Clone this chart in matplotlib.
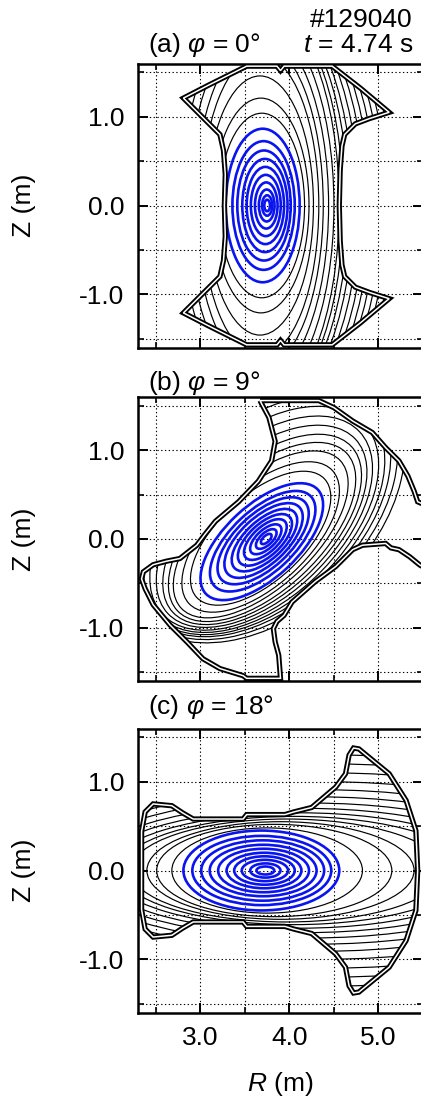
import numpy as np
import matplotlib
matplotlib.use("Agg")
import matplotlib.pyplot as plt
from matplotlib.patches import Ellipse, Polygon
from matplotlib.ticker import FixedLocator, FixedFormatter

plt.rcParams['font.family'] = ['Liberation Sans', 'DejaVu Sans']
plt.rcParams['mathtext.fontset'] = 'custom'
plt.rcParams['mathtext.rm'] = 'Liberation Sans'
plt.rcParams['mathtext.it'] = 'Liberation Sans:italic'

# ---------------- data ----------------
# panel (a) phi = 0 deg : upper half of boundary (mirrored in Z)
A_bnd_R = [3.27, 3.28, 3.26, 3.22, 2.81, 3.10, 3.52, 3.86, 3.90, 3.94, 4.48, 4.80, 5.12, 4.90, 4.74, 4.62, 4.59, 4.57, 4.56]
A_bnd_Z = [0.00, 0.35, 0.62, 0.80, 1.21, 1.36, 1.57, 1.57, 1.52, 1.57, 1.57, 1.32, 1.05, 0.98, 0.92, 0.80, 0.67, 0.40, 0.00]
A_blue_a = [0.032, 0.057, 0.088, 0.127, 0.168, 0.21, 0.254, 0.30, 0.35, 0.415]
A_blue_b = [0.065, 0.115, 0.18, 0.26, 0.345, 0.435, 0.525, 0.62, 0.725, 0.865]
A_blue_R = [3.75, 3.75, 3.745, 3.74, 3.735, 3.73, 3.725, 3.715, 3.71, 3.70]
A_blk_a = [0.48, 0.54, 0.60, 0.66, 0.72, 0.79, 0.86, 0.93, 0.98, 1.04, 1.10, 1.17, 1.24, 1.31, 1.38, 1.45, 1.52, 1.60, 1.68, 1.77]
A_blk_b = [1.04, 1.21, 1.46, 1.70, 1.85, 2.00, 2.15, 2.30, 2.35, 2.40, 2.45, 2.50, 2.55, 2.60, 2.65, 2.70, 2.75, 2.80, 2.85, 2.90]
A_blk_R = [3.69, 3.68, 3.67, 3.67, 3.66, 3.65, 3.64, 3.63, 3.625, 3.62, 3.615, 3.61, 3.605, 3.60, 3.595, 3.59, 3.585, 3.58, 3.575, 3.57]

# panel (b) phi = 9 deg : full boundary
B_bnd_R = [3.67, 3.69, 3.77, 3.84, 3.80, 3.65, 3.43, 3.17, 3.05, 2.96, 2.77, 2.62, 2.47, 2.36, 2.34, 2.38,
           2.47, 2.66, 2.85, 3.03, 3.22, 3.48, 3.52, 3.90, 3.88, 3.84, 3.82, 3.86, 3.94, 4.03, 4.29, 4.52,
           4.71, 4.82, 5.08, 5.14, 5.23, 5.35, 5.46, 5.60, 5.60, 5.44, 5.40, 5.33, 5.23, 5.08, 4.93, 4.71,
           4.50, 4.33]
B_bnd_Z = [1.56, 1.52, 1.37, 1.10, 0.88, 0.65, 0.42, 0.20, 0.05, -0.07, -0.22, -0.25, -0.29, -0.37, -0.45, -0.56,
           -0.74, -0.97, -1.16, -1.35, -1.46, -1.54, -1.57, -1.57, -1.31, -1.16, -1.01, -0.93, -0.86, -0.71, -0.48, -0.31,
           -0.12, -0.07, -0.05, -0.10, -0.12, -0.20, -0.29, -0.38, 0.35, 0.42, 0.54, 0.71, 0.88, 1.03, 1.20, 1.33,
           1.48, 1.56]
B_tilt = 43.0
B_blue_A = [0.075, 0.145, 0.22, 0.30, 0.38, 0.46, 0.55, 0.64, 0.74, 0.86]
B_blue_B = [0.036, 0.069, 0.105, 0.143, 0.181, 0.219, 0.262, 0.305, 0.352, 0.41]
B_blue_R = [3.74, 3.74, 3.735, 3.73, 3.725, 3.72, 3.71, 3.705, 3.70, 3.69]
B_blue_Z = [0.0, 0.0, -0.003, -0.006, -0.01, -0.013, -0.017, -0.02, -0.025, -0.03]
B_blk_A = [0.98, 1.10, 1.22, 1.30, 1.37, 1.44, 1.51, 1.58, 1.65, 1.72, 1.80, 1.88]
B_blk_B = [0.48, 0.54, 0.60, 0.66, 0.72, 0.79, 0.86, 0.93, 1.00, 1.08, 1.17, 1.27]
B_blk_R = [3.677, 3.677, 3.678, 3.693, 3.694, 3.688, 3.683, 3.684, 3.685, 3.680, 3.675, 3.669]
B_blk_Z = [0.009, 0.023, 0.052, 0.079, 0.108, 0.143, 0.179, 0.221, 0.264, 0.313, 0.363, 0.413]

# panel (c) phi = 18 deg : upper half of boundary (mirrored in Z)
C_bnd_R = [2.34, 2.34, 2.38, 2.47, 2.68, 2.80, 2.92, 3.48, 3.52, 3.95, 4.05, 4.25, 4.52, 4.63, 4.67, 4.72, 4.78, 5.12, 5.31, 5.42, 5.44]
C_bnd_Z = [0.00, 0.44, 0.66, 0.75, 0.73, 0.65, 0.58, 0.58, 0.63, 0.63, 0.66, 0.71, 0.94, 1.09, 1.30, 1.38, 1.37, 1.09, 0.79, 0.45, 0.00]
C_blue_a = [0.10, 0.17, 0.26, 0.34, 0.42, 0.51, 0.60, 0.69, 0.78, 0.875]
C_blue_b = [0.045, 0.08, 0.12, 0.16, 0.20, 0.245, 0.29, 0.34, 0.39, 0.45]
C_blue_R = [3.73, 3.73, 3.725, 3.72, 3.715, 3.71, 3.705, 3.70, 3.69, 3.685]
C_blk_a = [1.07, 1.32, 1.50, 1.75, 1.95, 2.15, 2.35, 2.55, 2.75, 2.95, 3.15, 3.35, 3.55, 3.75, 3.95]
C_blk_b = [0.48, 0.52, 0.55, 0.58, 0.61, 0.65, 0.70, 0.76, 0.83, 0.91, 1.00, 1.10, 1.20, 1.30, 1.40]
C_blk_R = [3.75, 3.83, 3.90, 3.97, 4.05, 4.12, 4.18, 4.24, 4.30, 4.35, 4.40, 4.45, 4.50, 4.55, 4.60]

panel_titles = [r"(a) $\varphi$ = 0°", r"(b) $\varphi$ = 9°", r"(c) $\varphi$ = 18°"]
shot_label = "#129040"
time_label = r"$t$ = 4.74 s"
x_ticks = [3.0, 4.0, 5.0]
x_ticklabels = ["3.0", "4.0", "5.0"]
y_ticks = [-1.0, 0.0, 1.0]
y_ticklabels = ["-1.0", "0.0", "1.0"]
x_minor = [2.5, 3.5, 4.5, 5.5]
y_minor = [-1.5, -0.5, 0.5, 1.5]

# ---------------- figure ----------------
W, H = 421, 1102
fig = plt.figure(figsize=(W / 100, H / 100), dpi=100)

def fx(px):
    return px / W

def fy(py):
    return 1 - py / H

left_px, width_px, height_px = 138, 285, 284
tops = [63.5, 397, 728.5]

def mirror(R, Z):
    return list(R) + list(R[-2:0:-1]), list(Z) + [-z for z in Z[-2:0:-1]]

def setup(ax, bottom):
    ax.set_xlim(2.3, 5.5)
    ax.set_ylim(-1.6, 1.6)
    ax.xaxis.set_major_locator(FixedLocator(x_ticks))
    ax.xaxis.set_minor_locator(FixedLocator(x_minor))
    ax.yaxis.set_major_locator(FixedLocator(y_ticks))
    ax.yaxis.set_minor_locator(FixedLocator(y_minor))
    ax.yaxis.set_major_formatter(FixedFormatter(y_ticklabels))
    if bottom:
        ax.xaxis.set_major_formatter(FixedFormatter(x_ticklabels))
    else:
        ax.tick_params(axis='x', labelbottom=False)
    ax.tick_params(which='both', direction='in', top=True, right=True, labelsize=19, pad=10)
    ax.tick_params(which='major', length=7, width=1.4)
    ax.tick_params(which='minor', length=4, width=1.2)
    ax.grid(True, which='both', color='black', lw=0.8, ls=(0, (1.2, 2.2)))
    ax.set_axisbelow(True)
    for s in ax.spines.values():
        s.set_linewidth(1.8)

def draw(ax, bR, bZ, fam_blk, fam_blue, ang):
    verts = np.column_stack([bR, bZ])
    clip = Polygon(verts, closed=True, transform=ax.transData)
    for (cx, cz, a, b) in fam_blk:
        e = Ellipse((cx, cz), 2 * a, 2 * b, angle=ang, fill=False, ec='black', lw=0.85, zorder=2)
        ax.add_patch(e)
        e.set_clip_path(clip)
    for (cx, cz, a, b) in fam_blue:
        e = Ellipse((cx, cz), 2 * a, 2 * b, angle=ang, fill=False, ec='#0a14f0', lw=1.9, zorder=3)
        ax.add_patch(e)
        e.set_clip_path(clip)
    ax.add_patch(Polygon(verts, closed=True, fill=False, ec='black', lw=3.8, zorder=4, joinstyle='miter'))
    ax.add_patch(Polygon(verts, closed=True, fill=False, ec='white', lw=1.1, zorder=5, joinstyle='miter'))

axes = []
for i, top in enumerate(tops):
    ax = fig.add_axes([fx(left_px), fy(top + height_px), width_px / W, height_px / H])
    setup(ax, i == 2)
    axes.append(ax)

# (a)
aR, aZ = mirror(A_bnd_R, A_bnd_Z)
draw(axes[0], aR, aZ,
     list(zip(A_blk_R, [0.0] * len(A_blk_R), A_blk_a, A_blk_b)),
     list(zip(A_blue_R, [0.0] * len(A_blue_R), A_blue_a, A_blue_b)), 0.0)
# (b)
draw(axes[1], B_bnd_R, B_bnd_Z,
     list(zip(B_blk_R, B_blk_Z, B_blk_A, B_blk_B)),
     list(zip(B_blue_R, B_blue_Z, B_blue_A, B_blue_B)), B_tilt)
# (c)
cR, cZ = mirror(C_bnd_R, C_bnd_Z)
draw(axes[2], cR, cZ,
     list(zip(C_blk_R, [0.0] * len(C_blk_R), C_blk_a, C_blk_b)),
     list(zip(C_blue_R, [0.0] * len(C_blue_R), C_blue_a, C_blue_b)), 0.0)

# texts
fs = 19
fig.text(fx(148), fy(52), panel_titles[0], fontsize=fs, ha='left', va='baseline')
fig.text(fx(413), fy(52), time_label, fontsize=fs, ha='right', va='baseline')
fig.text(fx(413), fy(27), shot_label, fontsize=fs, ha='right', va='baseline')
fig.text(fx(148), fy(390), panel_titles[1], fontsize=fs, ha='left', va='baseline')
fig.text(fx(148), fy(714), panel_titles[2], fontsize=fs, ha='left', va='baseline')
for top in tops:
    fig.text(fx(24), fy(top + height_px / 2), "Z (m)", fontsize=fs, rotation=90, ha='center', va='center')
fig.text(fx(280), fy(1091), r"$R$ (m)", fontsize=fs, ha='center', va='baseline')

fig.savefig("out.png", dpi=100)
